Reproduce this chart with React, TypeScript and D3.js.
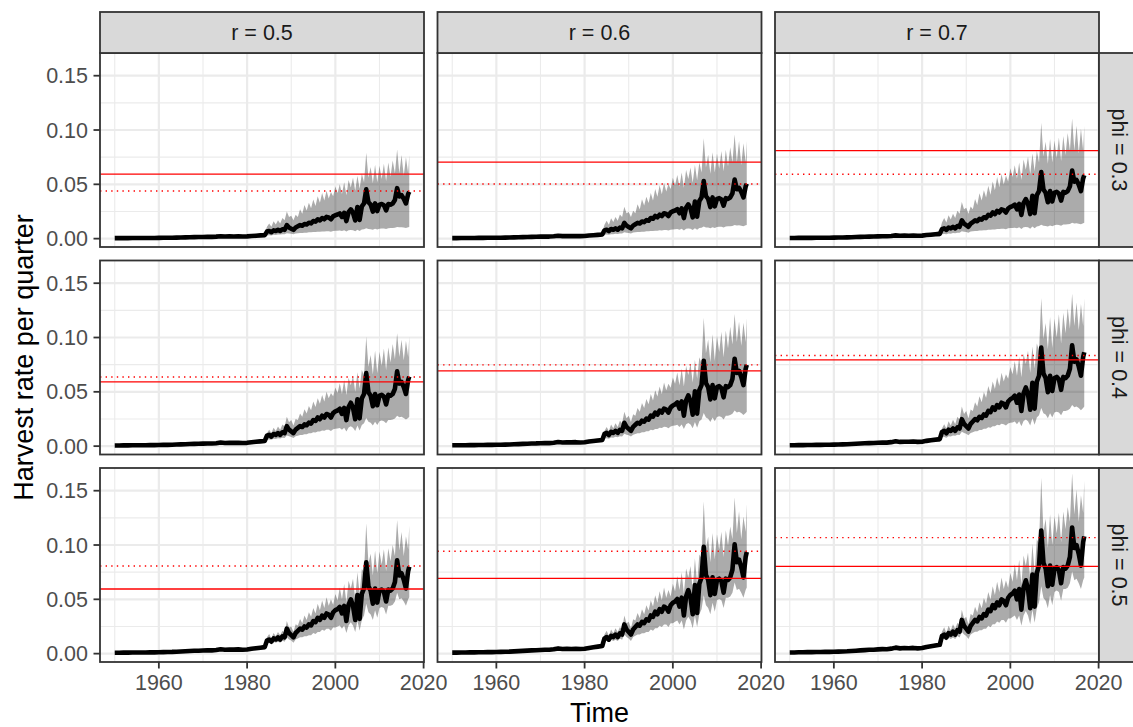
import React from "react";
import * as d3 from "d3";

// ---------- data ----------
const rLevels = ["0.5", "0.6", "0.7"];
const phiLevels = ["0.3", "0.4", "0.5"];
const xTicks = [1960, 1980, 2000, 2020];
const xMinor = [1950, 1970, 1990, 2010];
const yTicks = [0, 0.05, 0.1, 0.15];
const yMinor = [0.025, 0.075, 0.125];

// time points: annual 1950-1983, half-yearly 1984-2016.5, last quarter 2016.75
const times: number[] = [...d3.range(1950, 1984, 1), ...d3.range(1984, 2017, 0.5), 2016.75];

// median harvest rate, panel r = 0.5, phi = 0.5
const medianRate = [
  0.0008, 0.0008, 0.0009, 0.0009, 0.001, 0.001, 0.0011, 0.0011, 0.0012, 0.0012,
  0.0013, 0.0014, 0.0015, 0.0016, 0.0018, 0.002, 0.0022, 0.0024, 0.0026, 0.0027,
  0.0029, 0.0031, 0.003, 0.0034, 0.0041, 0.0036, 0.0038, 0.0037, 0.0039, 0.0036,
  0.0038, 0.0045, 0.005, 0.0055,
  0.006, 0.012, 0.013, 0.011, 0.014, 0.013, 0.015, 0.013, 0.016, 0.015,
  0.023, 0.019, 0.017, 0.015, 0.019, 0.021, 0.023, 0.022, 0.025, 0.024,
  0.027, 0.026, 0.03, 0.029, 0.033, 0.031, 0.035, 0.033, 0.037, 0.036,
  0.033, 0.038, 0.04, 0.041, 0.043, 0.037, 0.044, 0.03, 0.045, 0.05,
  0.044, 0.031, 0.054, 0.032, 0.055, 0.06, 0.084, 0.062, 0.058, 0.046,
  0.06, 0.047, 0.058, 0.059, 0.057, 0.048, 0.059, 0.058, 0.06, 0.066,
  0.086, 0.072, 0.074, 0.068, 0.06, 0.076, 0.08,
];

// median scale of each phi row relative to phi = 0.5
const phiMedianScale = [0.54, 0.8, 1.0];
// scale of each r column relative to r = 0.5
const rScale = [1.0, 1.17, 1.35];

// interval bounds in the r = 0.5 panel of each phi row
const upperPhi03 = [
  0.0006, 0.0006, 0.0007, 0.0007, 0.0008, 0.0008, 0.0009, 0.0009, 0.001, 0.001,
  0.001, 0.0011, 0.0012, 0.0013, 0.0014, 0.0016, 0.0018, 0.0019, 0.0021, 0.0022,
  0.0023, 0.0025, 0.0024, 0.0027, 0.0033, 0.0029, 0.003, 0.003, 0.0031, 0.0029,
  0.003, 0.0036, 0.004, 0.0044,
  0.005, 0.011, 0.014, 0.011, 0.016, 0.013, 0.017, 0.014, 0.019, 0.017,
  0.025, 0.02, 0.021, 0.017, 0.022, 0.02, 0.027, 0.023, 0.031, 0.026,
  0.033, 0.028, 0.036, 0.03, 0.039, 0.033, 0.042, 0.035, 0.044, 0.037,
  0.043, 0.039, 0.048, 0.042, 0.05, 0.041, 0.052, 0.04, 0.054, 0.047,
  0.056, 0.044, 0.058, 0.046, 0.06, 0.052, 0.079, 0.056, 0.066, 0.051,
  0.068, 0.052, 0.067, 0.055, 0.069, 0.053, 0.07, 0.057, 0.072, 0.06,
  0.082, 0.06, 0.077, 0.058, 0.075, 0.06, 0.077,
];
const lowerPhi03 = [
  0.0002, 0.0002, 0.0003, 0.0003, 0.0003, 0.0003, 0.0003, 0.0003, 0.0004, 0.0004,
  0.0004, 0.0004, 0.0005, 0.0005, 0.0005, 0.0006, 0.0007, 0.0007, 0.0008, 0.0008,
  0.0009, 0.0009, 0.0009, 0.001, 0.0012, 0.0011, 0.0011, 0.0011, 0.0012, 0.0011,
  0.0011, 0.0013, 0.0015, 0.0016,
  0.0015, 0.003, 0.0032, 0.003, 0.0035, 0.0034, 0.0038, 0.0037, 0.004, 0.004,
  0.005, 0.0047, 0.0045, 0.004, 0.0048, 0.005, 0.0052, 0.0052, 0.0055, 0.0055,
  0.0058, 0.0058, 0.006, 0.006, 0.0063, 0.0063, 0.0066, 0.0065, 0.0068, 0.0068,
  0.0064, 0.007, 0.0072, 0.0073, 0.0075, 0.007, 0.0077, 0.0065, 0.0078, 0.008,
  0.0078, 0.0068, 0.0082, 0.007, 0.0083, 0.0086, 0.0095, 0.0088, 0.0087, 0.0082,
  0.009, 0.0084, 0.0092, 0.0094, 0.0093, 0.0088, 0.0096, 0.0097, 0.0098, 0.01,
  0.0108, 0.0104, 0.0105, 0.0102, 0.0098, 0.0105, 0.0108,
];
const upperPhi04 = [
  0.0009, 0.0009, 0.001, 0.001, 0.0011, 0.0011, 0.0012, 0.0012, 0.0013, 0.0013,
  0.0014, 0.0015, 0.0017, 0.0018, 0.002, 0.0022, 0.0024, 0.0026, 0.0029, 0.003,
  0.0032, 0.0034, 0.0033, 0.0037, 0.0045, 0.004, 0.0042, 0.0041, 0.0043, 0.004,
  0.0042, 0.005, 0.0055, 0.006,
  0.006, 0.012, 0.015, 0.012, 0.017, 0.014, 0.018, 0.015, 0.02, 0.018,
  0.027, 0.022, 0.024, 0.019, 0.025, 0.024, 0.03, 0.027, 0.034, 0.03,
  0.037, 0.033, 0.041, 0.036, 0.044, 0.039, 0.047, 0.041, 0.05, 0.044,
  0.049, 0.046, 0.054, 0.049, 0.058, 0.048, 0.061, 0.047, 0.063, 0.056,
  0.065, 0.05, 0.068, 0.053, 0.07, 0.065, 0.101, 0.073, 0.084, 0.066,
  0.088, 0.067, 0.087, 0.074, 0.09, 0.07, 0.091, 0.077, 0.094, 0.08,
  0.104, 0.082, 0.098, 0.079, 0.097, 0.082, 0.101,
];
const lowerPhi04 = [
  0.0004, 0.0004, 0.0005, 0.0005, 0.0006, 0.0006, 0.0006, 0.0006, 0.0007, 0.0007,
  0.0007, 0.0008, 0.0008, 0.0009, 0.001, 0.0011, 0.0012, 0.0013, 0.0014, 0.0015,
  0.0016, 0.0017, 0.0017, 0.0019, 0.0023, 0.002, 0.0021, 0.002, 0.0021, 0.002,
  0.0021, 0.0025, 0.0028, 0.003,
  0.003, 0.006, 0.0062, 0.0058, 0.0068, 0.0066, 0.0073, 0.007, 0.0078, 0.0076,
  0.0098, 0.009, 0.0085, 0.0075, 0.009, 0.0095, 0.0102, 0.0102, 0.011, 0.011,
  0.0118, 0.0118, 0.0128, 0.0125, 0.0135, 0.0135, 0.0145, 0.0142, 0.0152, 0.015,
  0.014, 0.0155, 0.016, 0.0162, 0.0168, 0.015, 0.017, 0.0135, 0.0172, 0.0182,
  0.017, 0.014, 0.019, 0.0145, 0.0195, 0.021, 0.026, 0.0225, 0.0215, 0.019,
  0.0225, 0.0195, 0.023, 0.0235, 0.023, 0.021, 0.024, 0.024, 0.0245, 0.0255,
  0.028, 0.0265, 0.027, 0.026, 0.0245, 0.026, 0.027,
];
const upperPhi05 = [
  0.001, 0.001, 0.0011, 0.0011, 0.0012, 0.0012, 0.0013, 0.0013, 0.0014, 0.0015,
  0.0016, 0.0017, 0.0018, 0.002, 0.0022, 0.0024, 0.0027, 0.0029, 0.0032, 0.0033,
  0.0036, 0.0038, 0.0037, 0.0042, 0.005, 0.0044, 0.0047, 0.0046, 0.0048, 0.0045,
  0.0047, 0.0056, 0.0062, 0.0068,
  0.008, 0.015, 0.018, 0.014, 0.019, 0.016, 0.02, 0.017, 0.021, 0.019,
  0.03, 0.024, 0.025, 0.02, 0.027, 0.026, 0.032, 0.028, 0.035, 0.031,
  0.038, 0.034, 0.042, 0.037, 0.046, 0.04, 0.049, 0.042, 0.052, 0.044,
  0.05, 0.045, 0.055, 0.049, 0.061, 0.05, 0.064, 0.047, 0.067, 0.06,
  0.069, 0.05, 0.075, 0.055, 0.078, 0.075, 0.12, 0.083, 0.092, 0.072,
  0.095, 0.074, 0.094, 0.082, 0.096, 0.076, 0.097, 0.085, 0.1, 0.09,
  0.123, 0.095, 0.112, 0.09, 0.108, 0.096, 0.118,
];
const lowerPhi05 = [
  0.0006, 0.0006, 0.0007, 0.0007, 0.0008, 0.0008, 0.0009, 0.0009, 0.001, 0.001,
  0.0011, 0.0011, 0.0012, 0.0013, 0.0015, 0.0016, 0.0018, 0.002, 0.0021, 0.0022,
  0.0024, 0.0025, 0.0024, 0.0028, 0.0033, 0.0029, 0.0031, 0.003, 0.0032, 0.0029,
  0.0031, 0.0036, 0.004, 0.0044,
  0.005, 0.01, 0.01, 0.009, 0.011, 0.01, 0.011, 0.01, 0.012, 0.011,
  0.015, 0.013, 0.012, 0.01, 0.013, 0.014, 0.015, 0.015, 0.016, 0.016,
  0.017, 0.017, 0.019, 0.018, 0.02, 0.02, 0.022, 0.021, 0.023, 0.023,
  0.021, 0.024, 0.024, 0.025, 0.026, 0.023, 0.026, 0.019, 0.026, 0.029,
  0.026, 0.02, 0.03, 0.021, 0.031, 0.035, 0.046, 0.038, 0.036, 0.031,
  0.04, 0.033, 0.042, 0.043, 0.042, 0.036, 0.044, 0.044, 0.045, 0.048,
  0.056, 0.05, 0.051, 0.048, 0.044, 0.05, 0.052,
];
const upperByPhi = [upperPhi03, upperPhi04, upperPhi05];
const lowerByPhi = [lowerPhi03, lowerPhi04, lowerPhi05];

// reference harvest rates (rows: phi, cols: r)
const solidRefRate = [
  [0.0593, 0.0704, 0.081],
  [0.0591, 0.0692, 0.0795],
  [0.0595, 0.0693, 0.0804],
];
const dottedRefRate = [
  [0.0439, 0.0503, 0.0593],
  [0.0636, 0.0748, 0.0835],
  [0.0807, 0.0942, 0.1068],
];

// ---------- layout ----------
const W = 1133;
const H = 727;
const colX = [100, 437.5, 775];
const rowY = [53, 260.5, 468];
const panelW = 324;
const panelH = 194;
const stripTop = 12;
const stripSize = 41;
const FONT = "'Liberation Sans', Arial, Helvetica, sans-serif";
const tickFont = 21.5;
const titleFont = 27;

const x = d3.scaleLinear().domain([1946.66, 2020.09]).range([0, panelW]);
const y = d3.scaleLinear().domain([-0.0077, 0.1709]).range([panelH, 0]);
const fmtY = d3.format(".2f");

type Pt = { t: number; m: number; lo: number; hi: number };

function Panel({ ri, ci }: { ri: number; ci: number }) {
  const px = colX[ci];
  const py = rowY[ri];
  const k = rScale[ci];
  const pts: Pt[] = times.map((t, i) => ({
    t,
    m: medianRate[i] * phiMedianScale[ri] * k,
    lo: lowerByPhi[ri][i] * k,
    hi: upperByPhi[ri][i] * k,
  }));
  const area = d3
    .area<Pt>()
    .x((d) => x(d.t))
    .y0((d) => y(d.lo))
    .y1((d) => y(d.hi));
  const line = d3
    .line<Pt>()
    .x((d) => x(d.t))
    .y((d) => y(d.m));
  const clipId = `clip-${ri}-${ci}`;
  return (
    <g transform={`translate(${px},${py})`}>
      <defs>
        <clipPath id={clipId}>
          <rect x={0} y={0} width={panelW} height={panelH} />
        </clipPath>
      </defs>
      <rect x={0} y={0} width={panelW} height={panelH} fill="#fff" />
      <g clipPath={`url(#${clipId})`}>
        {yMinor.map((v) => (
          <line key={`ym${v}`} x1={0} x2={panelW} y1={y(v)} y2={y(v)} stroke="#EBEBEB" strokeWidth={1.1} />
        ))}
        {xMinor.map((v) => (
          <line key={`xm${v}`} y1={0} y2={panelH} x1={x(v)} x2={x(v)} stroke="#EBEBEB" strokeWidth={1.1} />
        ))}
        {yTicks.map((v) => (
          <line key={`yM${v}`} x1={0} x2={panelW} y1={y(v)} y2={y(v)} stroke="#EBEBEB" strokeWidth={2.2} />
        ))}
        {xTicks.map((v) => (
          <line key={`xM${v}`} y1={0} y2={panelH} x1={x(v)} x2={x(v)} stroke="#EBEBEB" strokeWidth={2.2} />
        ))}
        <path d={area(pts) || ""} fill="#000" fillOpacity={0.33} />
        <path d={line(pts) || ""} fill="none" stroke="#000" strokeWidth={4.6} strokeLinejoin="round" />
        <line
          x1={0}
          x2={panelW}
          y1={y(solidRefRate[ri][ci])}
          y2={y(solidRefRate[ri][ci])}
          stroke="#FF0000"
          strokeWidth={1.3}
        />
        <line
          x1={0}
          x2={panelW}
          y1={y(dottedRefRate[ri][ci])}
          y2={y(dottedRefRate[ri][ci])}
          stroke="#FF0000"
          strokeWidth={1.4}
          strokeDasharray="1.4 4.2"
        />
      </g>
      <rect x={0} y={0} width={panelW} height={panelH} fill="none" stroke="#333333" strokeWidth={1.8} />
      {ci === 0 &&
        yTicks.map((v) => (
          <g key={`yt${v}`}>
            <line x1={-6.5} x2={0} y1={y(v)} y2={y(v)} stroke="#333333" strokeWidth={1.8} />
            <text
              x={-12}
              y={y(v) + 7.6}
              textAnchor="end"
              fontSize={tickFont}
              fill="#4D4D4D"
              fontFamily={FONT}
            >
              {fmtY(v)}
            </text>
          </g>
        ))}
      {ri === 2 &&
        xTicks.map((v) => (
          <g key={`xt${v}`}>
            <line x1={x(v)} x2={x(v)} y1={panelH} y2={panelH + 6.5} stroke="#333333" strokeWidth={1.8} />
            <text
              x={x(v)}
              y={panelH + 28}
              textAnchor="middle"
              fontSize={tickFont}
              fill="#4D4D4D"
              fontFamily={FONT}
            >
              {v}
            </text>
          </g>
        ))}
    </g>
  );
}

export default function App() {
  return (
    <svg
      width={W}
      height={H}
      viewBox={`0 0 ${W} ${H}`}
      style={{ position: "absolute", left: 0, top: 0, background: "#fff" }}
    >
      <rect x={0} y={0} width={W} height={H} fill="#fff" />
      {phiLevels.map((_, ri) => rLevels.map((__, ci) => <Panel key={`${ri}-${ci}`} ri={ri} ci={ci} />))}
      {/* top strips */}
      {rLevels.map((r, ci) => (
        <g key={`ts${r}`} transform={`translate(${colX[ci]},${stripTop})`}>
          <rect x={0} y={0} width={panelW} height={stripSize} fill="#D9D9D9" stroke="#333333" strokeWidth={1.8} />
          <text
            x={panelW / 2}
            y={stripSize / 2 + 7.7}
            textAnchor="middle"
            fontSize={tickFont}
            fill="#1A1A1A"
            fontFamily={FONT}
          >
            {`r = ${r}`}
          </text>
        </g>
      ))}
      {/* right strips */}
      {phiLevels.map((p, ri) => (
        <g key={`rs${p}`} transform={`translate(${colX[2] + panelW},${rowY[ri]})`}>
          <rect x={0} y={0} width={stripSize} height={panelH} fill="#D9D9D9" stroke="#333333" strokeWidth={1.8} />
          <text
            transform={`translate(${stripSize / 2 - 7.7},${panelH / 2}) rotate(90)`}
            textAnchor="middle"
            fontSize={tickFont}
            fill="#1A1A1A"
            fontFamily={FONT}
          >
            {`phi = ${p}`}
          </text>
        </g>
      ))}
      {/* axis titles */}
      <text
        x={colX[0] + (colX[2] + panelW - colX[0]) / 2}
        y={721.5}
        textAnchor="middle"
        fontSize={titleFont}
        fill="#000"
        fontFamily={FONT}
      >
        Time
      </text>
      <text
        transform={`translate(${33},${(rowY[0] + rowY[2] + panelH) / 2}) rotate(-90)`}
        textAnchor="middle"
        fontSize={titleFont}
        fill="#000"
        fontFamily={FONT}
      >
        Harvest rate per quarter
      </text>
    </svg>
  );
}
